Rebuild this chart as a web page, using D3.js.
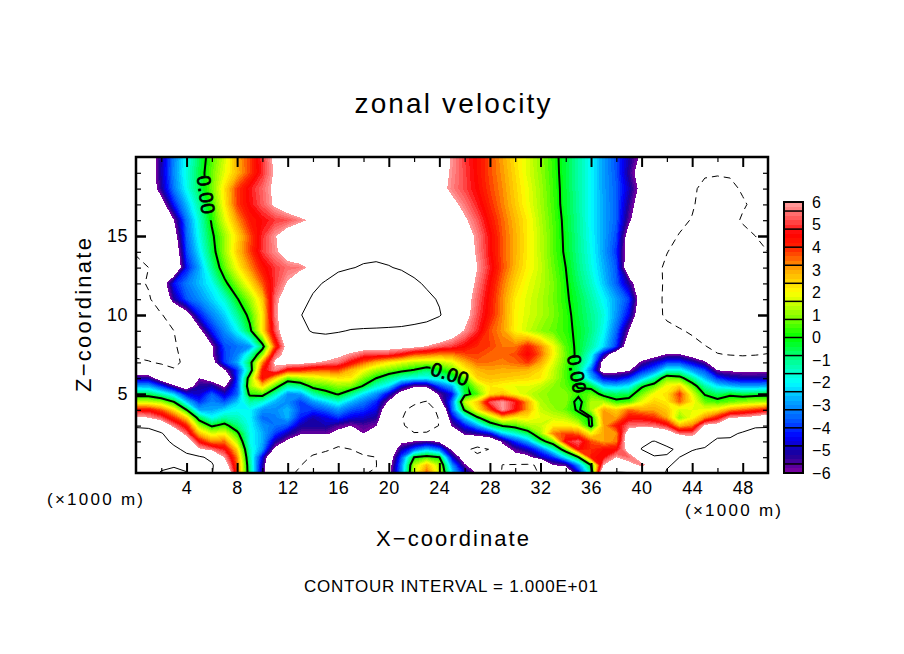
<!DOCTYPE html>
<html>
<head>
<meta charset="utf-8">
<title>zonal velocity</title>
<script src="https://cdn.jsdelivr.net/npm/d3@7"></script>
<style>
  html, body { margin: 0; padding: 0; background: #fff; }
  text { font-family: "Liberation Sans", sans-serif; fill: #000; }
</style>
</head>
<body>
<svg id="chart" width="904" height="654"></svg>
<script>
// values: x columns every 1 (x1000 m), one array per height
var xValues = d3.range(0, 51);
var zLevels = [0,0.5,1,1.5,2,2.5,3,3.5,4,4.5,5,5.5,6,6.5,7,7.5,8,9,10,11,12,13,14,15,16,17,18,19,20];

var u_z0 = [11.5,11,9.8,9.5,9.9,11,10.1,8.5,3.7,-0.8,
  -5.2,-9.5,-9.5,-10.4,-11.5,-11.5,-11,-10.5,-10.1,-9.8,
  -6.5,-3,1.6,3.6,1.6,-2.2,-4.5,-6.2,-8,-10.2,
  -11,-10.8,-9.8,-8,-8,-4.8,-1.2,9,10.3,10.2,
  8,8,10.3,11,11,12,12,12,12,12,12];
var u_z05 = [12,11.6,10.5,10.2,10.5,11,10.4,7,3.6,-0.9,
  -5,-9.5,-9.4,-9.9,-11,-11.3,-11,-10.5,-10.3,-10.1,
  -6.8,-3.1,1.3,2.8,1.3,-3,-5.8,-7,-8.6,-10.05,
  -10.3,-10.4,-9.6,-6,-5.6,-3,0,6,7.5,6.5,
  5.7,6.5,9.7,10.6,11.5,12,12,12,12,12,12];
var u_z1 = [12,11.8,11.2,11,10.6,10.5,9.2,5.9,3.3,-1.2,
  -4.5,-9,-9,-9.2,-10.3,-10.8,-10.8,-10.4,-10.2,-10,
  -7.2,-3.7,0,0.5,0,-4.6,-7,-9.3,-8.7,-9,
  -6.6,-6.4,-5,-4,-1.9,0,4.3,4.6,6,5.4,
  6.8,9.8,9.7,10,11,11.5,12,12,12,12,12];
var u_z15 = [12.3,11.7,11.3,10.6,9.4,6.2,5.5,4.7,2.5,-1.5,
  -3,-6.4,-8,-8.5,-9.2,-9.7,-10.3,-10,-9.5,-9.4,
  -7.5,-5.1,-3.6,-2.5,-3.4,-6.3,-9.3,-10.8,-9.9,-6.8,
  -5.6,-4.8,-3.5,-1.5,0.8,4.6,4,4.4,4.5,6.6,
  10.1,11,10.6,9.4,9.8,10.4,11.5,11.5,12,12,12];
var u_z2 = [12.5,11.5,11,9.4,7,4.5,3.2,3.4,1.3,-1.8,
  -2.7,-5,-6.3,-7.5,-7.5,-8,-9.4,-9.5,-8.5,-8.6,
  -8,-6.3,-6,-5.6,-6.3,-7.5,-8,-8,-7.5,-5.7,
  -4,-2.8,-0.5,0.8,4.7,5.3,3.7,3,3.3,7.5,
  9.5,10.1,9,8.5,7,8.6,10.8,10.7,11.5,12,12];
var u_z25 = [11.5,10.9,10.3,7.8,5.4,2.7,1.7,2,0.3,-1.8,
  -2.7,-3.9,-5,-5.8,-5.8,-5.8,-6.4,-7.5,-6,-7.5,
  -8.5,-8.5,-9.8,-9.7,-9,-8,-5.6,-5.2,-4.5,-2.4,
  -1.6,-0.6,1.1,3.3,3.8,3.5,2,3,3.2,7,
  8,7.5,7,5.5,5.4,7.5,8.8,9.2,10.5,11,11];
var u_z3 = [9.5,9.5,7.5,5.5,4.2,1.2,-0.2,0.4,-0.8,-1.9,
  -3,-3.4,-3.7,-5,-5.1,-5,-5.6,-6,-5.6,-5.9,
  -8.5,-9.5,-11.5,-11.5,-9.9,-5.8,-4.3,-2.8,-0.8,0.1,
  0.5,1.2,1.5,2.2,2.2,1.8,-0.3,3,4.2,5.5,
  5.6,5.5,4.8,2.8,3.3,6.3,6.6,7.4,7.8,9.6,9.7];
var u_z35 = [6.3,6,5.2,4,2.5,-0.6,-1.9,-1.2,-1.4,-2,
  -3.5,-3.3,-2.7,-4.2,-5,-4.6,-4,-4.6,-4.8,-5.2,
  -8,-9.8,-11.5,-12.5,-9.7,-4.8,-2.4,-0.2,1.2,2.7,
  2.1,2.2,1.8,1.6,1.4,0.6,-0.15,3.2,3,4.4,
  4.4,4,3,1,2,3.2,4.3,6,6.1,6.5,7];
var u_z4 = [4.4,4.4,3.6,2.3,0,-2.8,-2.8,-2.3,-1.9,-2,
  -3,-3.1,-2.6,-3.8,-4,-3.6,-3,-3.7,-4,-4.6,
  -7.5,-9.5,-10.8,-12,-9,-3.5,0.2,2.2,3.8,5.9,
  4.6,3,1.5,1.1,0.7,-0.2,1.3,3,2.5,3.5,
  3,3,2.6,1.6,1.8,1.9,2.2,3.1,3.5,3.9,4.4];
var u_z45 = [1.6,1.5,1.2,0,-2.4,-4,-3.2,-3.7,-2.5,-1.2,
  -1.6,-2.7,-3.1,-3.9,-3,-2.3,-1.6,-2.6,-3.3,-4.1,
  -6.2,-8.5,-9.5,-10.2,-6.7,-3.4,1.5,2.6,5.2,5.9,
  4.8,3,1.3,0.9,1,-0.5,1.3,1.3,0.3,0.5,
  1.8,2.5,2.2,3.5,2.2,0.7,0.4,0.7,1,1.2,1.3];
var u_z5 = [-0.5,-0.6,-1.4,-2.4,-4.5,-4.8,-3.6,-4.8,-3.6,0.3,
  0.5,-1.3,-3,-2.9,-1.3,-0.4,0.1,-0.9,-2.2,-3,
  -4.6,-6.8,-7.5,-8,-5.7,-4.4,-0.4,0.5,2.3,2.7,
  2,1.5,1.1,0.9,0.9,0.3,0.7,-0.4,-0.7,-0.5,
  0.8,2,2.3,3.9,1.8,-0.1,-0.7,-0.2,-0.5,-0.4,-0.3];
var u_z55 = [-2.8,-2.8,-4,-5.7,-7,-5.2,-5,-6.2,-3.8,1.1,
  2.5,0.6,-1.2,-0.9,0.4,0.6,1,0.9,-0.1,-1.5,
  -2.2,-4.5,-5.8,-5.7,-3.8,-2.7,-0.3,1.3,2.2,2,
  1.8,1.8,1.5,1,0.6,-0.1,-0.4,-2.3,-2.5,-2.1,
  -0.2,0.6,2,2.5,0.7,-1.2,-2.2,-2.6,-2.9,-2.9,-2.7];
var u_z6 = [-5,-5.2,-7,-8.5,-8,-6,-6.8,-8,-4,0.8,
  4.5,2.6,0.8,1.2,1.6,1.9,2.3,2.2,0.9,0,
  -0.9,-1.6,-1.9,-2,-1.5,-0.7,0.7,2.5,2.7,2.6,
  2.5,2.4,2.2,1.4,0.5,-0.6,-2.6,-4.5,-4.8,-4,
  -2.6,-1.2,0.8,0.5,-1,-2.6,-4,-4.7,-5,-5,-5];
var u_z65 = [-7.5,-7.5,-8.5,-9.8,-9.5,-8.7,-7.8,-6.2,-4,-0.9,
  4.3,5.7,4.2,4.1,3.7,3.6,3.7,2.8,2,1.2,
  0.8,0.3,-0.1,-0.8,-0.2,0.6,2,2.8,3,2.9,
  2.9,2.8,2.4,1.5,0.5,-0.8,-3.4,-7,-6.5,-6.2,
  -4.3,-3.4,-1.7,-1.7,-2.9,-3.8,-6,-6.2,-6.3,-6.3,-6.2];
var u_z7 = [-9.4,-9.8,-10.4,-10.5,-9.5,-8.5,-6.7,-4,-2.8,-0.5,
  3.2,6.2,6.6,6.4,6.1,5.8,5.5,4.5,3.6,2.8,
  2.2,1.8,1.4,1.3,1.4,1.8,2.8,3.5,3.4,3.3,
  3.5,3.9,3,1.8,0.6,-0.5,-2.2,-6.8,-8,-7.3,
  -5.7,-4.8,-3.9,-3.9,-4.7,-5.7,-7.5,-8.7,-9,-8.9,-8.7];
var u_z75 = [-10.5,-10.8,-10.9,-10.6,-9,-7.5,-6.2,-3.9,-3.2,-1.5,
  1,5.2,6.7,7,7.1,6.9,6.3,5.8,5.2,5.1,
  5,4.5,3.7,3.5,3.2,3.3,3.7,3.8,3.5,3.5,
  3.7,4.6,3.5,2.1,0.7,-0.3,-1.8,-4.8,-7.5,-7.5,
  -7.3,-6.7,-5.9,-5.9,-6.7,-7.7,-9.9,-10.1,-10.2,-10.1,-9.9];
var u_z8 = [-13.5,-12.5,-11.2,-10.3,-9,-7.5,-6.2,-3.8,-3.4,-3,
  -0.5,3.8,6.7,7.2,7.8,7.8,7.3,6.9,6.7,6.6,
  6.6,6.5,6.3,5.9,5.3,5,4.5,4,3.8,3.4,
  3.4,4.2,3.3,2,0.6,-0.3,-1.2,-2.3,-4,-7.5,
  -8,-8.3,-8.5,-8.9,-9.3,-9.9,-10.5,-10.9,-11,-10.9,-10.7];
var u_z9 = [-13,-12.2,-11,-10,-8.5,-6.5,-4.2,-3.1,-2,-0.3,
  2.3,5.2,7.4,9.2,10.3,10.6,10.3,9.8,9.6,9.5,
  9.4,9.3,9,8.7,8.1,7,5.9,4.9,3.7,3.1,
  2.1,1.5,1,0.7,0.3,-0.25,-0.9,-1.9,-3.5,-6,
  -8,-8.9,-9.5,-9.8,-10.3,-11,-11.2,-11.3,-11.2,-11,-10.8];
var u_z10 = [-12.5,-11.5,-10.2,-8.5,-6.8,-4.3,-3.2,-2.4,-1.1,0.35,
  2.2,5.6,7.4,9.9,10.8,11.4,11.9,12.2,12.4,12.4,
  12.2,11.9,11.5,11,10.2,8.7,6.6,5.2,4.2,3.2,
  2.1,1.65,1.3,0.85,0.3,-0.4,-1,-1.7,-3,-4.5,
  -7.5,-9.4,-10.3,-11,-11.6,-12,-12.2,-12.2,-12,-11.7,-11.4];
var u_z11 = [-11.5,-10.4,-8,-5.2,-3.7,-3.1,-2.4,-1.6,-0.1,1.1,
  2.6,5.5,7.2,8.8,10.4,11.2,11.8,12.2,12.3,12.3,
  12.1,11.7,11.1,10.5,9.8,8.6,6.7,5.4,4.3,3.2,
  2.2,1.7,1.3,0.8,0.15,-0.45,-1.2,-2,-2.9,-3.9,
  -7,-9.2,-10.5,-11.2,-11.6,-11.9,-12.1,-12.1,-11.8,-11.5,-11.2];
var u_z12 = [-10.8,-9.7,-7.2,-4.3,-3.3,-2.6,-1.9,-0.3,1,2.25,
  3.6,5,6.1,7.7,9.3,10.3,11,11.5,11.7,11.7,
  11.5,11,10.4,9.7,8.8,8,7,5.7,4.5,3.4,
  2.5,1.85,1.4,0.85,0.1,-0.7,-1.5,-2.5,-3.6,-5.2,
  -7.5,-9.2,-10.4,-11,-11.4,-11.7,-11.9,-11.9,-11.6,-11.3,-11];
var u_z13 = [-10.9,-10,-9,-8,-4.3,-2.8,-1,0.65,2,3.2,
  4.3,5,5.5,5.6,6.4,8.5,9.6,9.9,10.2,10.3,
  10.1,9.8,9.3,8.7,8.2,7.6,7,6,4.8,3.7,
  2.8,2.1,1.5,0.7,0,-0.9,-1.75,-2.7,-3.7,-7.3,
  -8.7,-9.5,-10.3,-10.8,-11.2,-11.5,-11.7,-11.6,-11.3,-11,-10.6];
var u_z14 = [-9.7,-9.2,-8.5,-7.5,-3.8,-2.2,-0.45,1.1,2.6,3.75,
  5,5.8,6.7,7.3,7.8,8.3,8.7,9.1,9.4,9.5,
  9.4,9.1,8.7,8.3,7.9,7.4,6.9,5.8,4.6,3.6,
  2.9,2.15,1.4,0.6,-0.15,-1,-1.85,-2.9,-4,-7,
  -8.6,-9.4,-9.95,-10.5,-11,-11.3,-11.5,-11.4,-11,-10.6,-10];
var u_z15b = [-9.3,-8.8,-8,-6.8,-3.5,-1.8,-0.2,1.1,2.4,3.7,
  4.9,5.9,6.9,7.6,8.2,8.6,8.9,9.1,9.2,9.2,
  9.1,8.9,8.6,8.2,7.8,7.3,6.8,5.7,4.6,3.6,
  2.9,2.15,1.4,0.6,-0.2,-1.05,-1.95,-2.85,-3.8,-6.8,
  -8.3,-9.2,-9.5,-10.1,-10.6,-11,-11.3,-11.2,-10.6,-10,-9.7];
var u_z16 = [-9.2,-8.5,-7.5,-6,-3.3,-1.6,0.15,1.7,3.1,4.2,
  4.6,5,5.2,5.7,6.3,8,8.5,8.8,8.9,8.9,
  8.8,8.6,8.2,7.8,7.3,6.8,6.2,5.3,4.3,3.5,
  2.8,2.15,1.3,0.55,-0.25,-1.1,-2,-2.85,-3.6,-5.7,
  -7.5,-8.8,-9.2,-9.6,-10.1,-10.9,-11.2,-10.6,-9.8,-9.5,-9.3];
var u_z17 = [-9,-8,-6.8,-4.2,-2.6,-1.1,0.35,2.15,3.8,4.6,
  5.3,6.2,7,7.6,8.2,8.6,8.8,8.8,8.8,8.7,
  8.6,8.4,8,7.6,7,6.4,5.6,4.8,4,3.3,
  2.6,1.9,1.2,0.45,-0.35,-1.15,-2,-2.85,-3.6,-5.3,
  -7,-7.8,-8.5,-9.2,-9.8,-10.7,-11,-10.8,-10.2,-9.6,-9.2];
var u_z18 = [-8.8,-7.5,-5.2,-3.3,-1.9,-0.6,0.75,2.3,3.8,4.7,
  5.4,6.3,7.2,7.8,8.2,8.5,8.6,8.6,8.6,8.6,
  8.5,8.3,8,7.5,6.5,5.7,5.1,4.5,3.8,3.2,
  2.5,1.85,1.15,0.4,-0.35,-1.2,-2,-2.9,-3.6,-4.9,
  -6.5,-7.5,-8.2,-8.9,-9.6,-10.6,-10.8,-10.4,-9.8,-9.3,-9];
var u_z19 = [-8.6,-7.2,-5,-3.1,-1.7,-0.5,0.7,1.8,2.8,3.8,
  4.9,6.2,7,7.6,8,8.3,8.4,8.5,8.5,8.5,
  8.4,8.3,8,7.6,6.7,5.8,5.1,4.4,3.7,3.1,
  2.4,1.7,1.05,0.35,-0.4,-1.2,-2,-2.9,-3.7,-5.3,
  -6.9,-7.6,-8,-8.4,-8.9,-9.7,-9.8,-9.8,-9.4,-9,-8.8];
var u_z20 = [-8.5,-7.4,-5.1,-3.2,-1.9,-0.6,0.5,1.6,2.9,3.8,
  5,6.3,7,7.5,8,8.2,8.3,8.4,8.4,8.4,
  8.3,8.2,8,7.7,6.8,5.9,5,4.4,3.7,3,
  2.3,1.7,1,0.3,-0.4,-1.2,-2,-2.9,-3.8,-5,
  -6.3,-7,-7.5,-8,-8.3,-8.5,-8.6,-8.7,-8.6,-8.5,-8.4];

var uRows = [u_z0,u_z05,u_z1,u_z15,u_z2,u_z25,u_z3,u_z35,u_z4,u_z45,u_z5,u_z55,u_z6,u_z65,u_z7,u_z75,u_z8,
  u_z9,u_z10,u_z11,u_z12,u_z13,u_z14,u_z15b,u_z16,u_z17,u_z18,u_z19,u_z20];

var xTickLabels = [4,8,12,16,20,24,28,32,36,40,44,48];
var zTickLabels = [5,10,15];
var barLabels = [6,5,4,3,2,1,0,-1,-2,-3,-4,-5,-6];

var svg = d3.select('#chart');
var plot = {left: 136, right: 768, top: 157, bottom: 473};

var x = d3.scaleLinear().domain([0, 50]).range([plot.left, plot.right]);
var z = d3.scaleLinear().domain([0, 20]).range([plot.bottom, plot.top]);
var barY = d3.scaleLinear().domain([-6, 6]).range([473, 202]);

var color = d3.scaleLinear()
  .domain([-6, -5.2, -4.4, -3.6, -2.8, -2, -1, 0, 1, 2, 3, 4, 4.6, 5.2, 6])
  .range(['#8000a0','#1a0098','#0000ff','#0060ff','#00a8ff','#00ffff','#00ff90','#00ff00',
          '#90ff00','#ffff00','#ffa800','#ff2000','#ff0000','#ff5050','#ffa0a0']);

var bandLevels = d3.range(0, 60).map(function(i) { return -6 + i * 0.2; });

function checkRows() {
  uRows.forEach(function(r, i) {
    if (r.length !== xValues.length) throw new Error('bad row z=' + zLevels[i] + ' len ' + r.length);
  });
}
checkRows();

// contour grid index -> data units (d3 puts grid values at i + 0.5)
var xIndex = d3.scaleLinear().domain(xValues.map(function(d, i) { return i + 0.5; })).range(xValues);
var zIndex = d3.scaleLinear().domain(zLevels.map(function(d, i) { return i + 0.5; })).range(zLevels);

var path = d3.geoPath(d3.geoTransform({
  point: function(a, b) { this.stream.point(x(xIndex(a)), z(zIndex(b))); }
}));

var contours = d3.contours().size([xValues.length, zLevels.length]);
var flat = d3.merge(uRows);

var defs = svg.append('defs');
defs.append('clipPath').attr('id', 'plot-clip').append('rect')
  .attr('x', plot.left).attr('y', plot.top)
  .attr('width', plot.right - plot.left).attr('height', plot.bottom - plot.top);

// holes in the zero line where its labels sit
var labelGaps = [[4.7, 18.8, 6.6, 16.0], [23.3, 7.5, 26.3, 5.0], [33.9, 7.3, 35.8, 5.6]];
var lineMask = defs.append('mask').attr('id', 'line-gaps').attr('maskUnits', 'userSpaceOnUse')
  .attr('x', 0).attr('y', 0).attr('width', 904).attr('height', 654);
lineMask.append('rect').attr('width', 904).attr('height', 654).attr('fill', '#fff');
lineMask.selectAll('rect.gap').data(labelGaps).enter().append('rect').attr('class', 'gap')
  .attr('x', function(d) { return x(d[0]); })
  .attr('y', function(d) { return z(d[1]); })
  .attr('width', function(d) { return x(d[2]) - x(d[0]); })
  .attr('height', function(d) { return z(d[3]) - z(d[1]); })
  .attr('fill', '#000');

var field = svg.append('g').attr('clip-path', 'url(#plot-clip)');

// colour bands, low to high, white again above 6
field.selectAll('path.band').data(bandLevels).enter().append('path')
  .attr('class', 'band')
  .attr('d', function(t) { return path(contours.contour(flat, t + 1e-6)); })
  .attr('fill', function(t) { return color(t + 0.1); })
  .attr('shape-rendering', 'crispEdges');
field.append('path')
  .attr('d', path(contours.contour(flat, 6)))
  .attr('fill', '#fff')
  .attr('shape-rendering', 'crispEdges');

// contour lines, interval 10
field.append('path').attr('d', path(contours.contour(flat, 10)))
  .attr('fill', 'none').attr('stroke', '#000').attr('stroke-width', 1);
field.append('path').attr('d', path(contours.contour(flat, -10)))
  .attr('fill', 'none').attr('stroke', '#000').attr('stroke-width', 1).attr('stroke-dasharray', '7,5');
field.append('g').attr('mask', 'url(#line-gaps)').append('path')
  .attr('d', path(contours.contour(flat, 0)))
  .attr('fill', 'none').attr('stroke', '#000').attr('stroke-width', 2);

var lineLabels = [[5.55, 17.6, 82], [24.85, 6.27, 18], [34.9, 6.27, 80]];
svg.selectAll('text.line-label').data(lineLabels).enter().append('text')
  .attr('class', 'line-label')
  .attr('transform', function(d) { return 'translate(' + x(d[0]) + ',' + z(d[1]) + ') rotate(' + d[2] + ')'; })
  .attr('text-anchor', 'middle').attr('dy', '0.36em')
  .attr('font-size', 19).attr('letter-spacing', 0.5)
  .attr('stroke', '#000').attr('stroke-width', 0.8)
  .text('0.00');

// axes: inward ticks on all four sides
function styleAxis(g, fontSize) {
  g.select('.domain').remove();
  g.selectAll('line').attr('stroke', '#000');
  g.selectAll('text').attr('font-size', fontSize).attr('fill', '#000')
    .attr('font-family', '"Liberation Sans", sans-serif').attr('letter-spacing', 0.5);
}
var xMinor = d3.range(2, 50, 4);
var zMinor = d3.range(1, 20).filter(function(d) { return d % 5 !== 0; });

function ticks(axisFn, scale, values, size, width, tx, ty, labels) {
  var g = svg.append('g').attr('transform', 'translate(' + tx + ',' + ty + ')')
    .call(axisFn(scale).tickValues(values).tickSize(size).tickSizeOuter(0)
      .tickPadding(labels ? 8 : 0)
      .tickFormat(labels ? d3.format('d') : ''));
  styleAxis(g, 18);
  g.selectAll('line').attr('stroke-width', width);
  return g;
}
ticks(d3.axisBottom, x, xTickLabels, -10, 2, 0, plot.bottom, true);
ticks(d3.axisBottom, x, xMinor, -5, 1.2, 0, plot.bottom, false);
ticks(d3.axisTop, x, xTickLabels, -10, 2, 0, plot.top, false);
ticks(d3.axisTop, x, xMinor, -5, 1.2, 0, plot.top, false);
ticks(d3.axisLeft, z, zTickLabels, -10, 2.5, plot.left, 0, true);
ticks(d3.axisLeft, z, zMinor, -5, 1.2, plot.left, 0, false);
ticks(d3.axisRight, z, zTickLabels, -10, 2.5, plot.right, 0, false);
ticks(d3.axisRight, z, zMinor, -5, 1.2, plot.right, 0, false);

svg.append('rect')
  .attr('x', plot.left).attr('y', plot.top)
  .attr('width', plot.right - plot.left).attr('height', plot.bottom - plot.top)
  .attr('fill', 'none').attr('stroke', '#000').attr('stroke-width', 2.5);

// colour bar
var bar = svg.append('g');
var barX = 784, barW = 19;
bar.selectAll('rect').data(bandLevels).enter().append('rect')
  .attr('x', barX).attr('width', barW)
  .attr('y', function(t) { return barY(t + 0.2); })
  .attr('height', function(t) { return barY(t) - barY(t + 0.2); })
  .attr('fill', function(t) { return color(t + 0.1); })
  .attr('shape-rendering', 'crispEdges');
bar.selectAll('line').data(d3.range(-7, 8).map(function(i) { return i * 0.8; })).enter().append('line')
  .attr('x1', barX).attr('x2', barX + barW)
  .attr('y1', function(d) { return barY(d); }).attr('y2', function(d) { return barY(d); })
  .attr('stroke', '#000').attr('stroke-width', 1.5);
bar.append('rect').attr('x', barX).attr('y', barY(6)).attr('width', barW).attr('height', barY(-6) - barY(6))
  .attr('fill', 'none').attr('stroke', '#000').attr('stroke-width', 2);
bar.selectAll('text').data(barLabels).enter().append('text')
  .attr('x', 812).attr('y', function(d) { return barY(d); }).attr('dy', '0.36em')
  .attr('font-size', 16).attr('letter-spacing', 0.5)
  .text(function(d) { return d < 0 ? '\u2212' + (-d) : d; });

// titles
function label(txt, px, py, size, len, rotate) {
  var t = svg.append('text').attr('text-anchor', 'middle').attr('font-size', size)
    .attr('textLength', len).attr('lengthAdjust', 'spacing').text(txt);
  if (rotate) t.attr('transform', 'translate(' + px + ',' + py + ') rotate(' + rotate + ')');
  else t.attr('x', px).attr('y', py);
}
label('zonal velocity', 452.5, 113, 28, 196);
label('X\u2212coordinate', 452.5, 546, 22, 153);
label('Z\u2212coordinate', 91, 315, 22, 154, -90);
label('(\u00d71000 m)', 95, 505, 17, 96);
label('(\u00d71000 m)', 733, 516, 17, 96);
label('CONTOUR INTERVAL = 1.000E+01', 451, 592, 17, 294);
</script>
</body>
</html>
